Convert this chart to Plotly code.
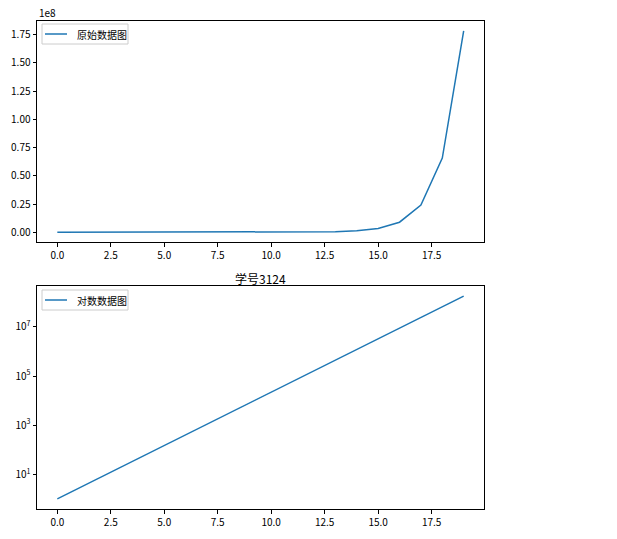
import plotly.graph_objects as go

x_vals = list(range(20))
y_vals = [1.0, 2.718, 7.389, 20.09, 54.60, 148.4, 403.4, 1097, 2981, 8103,
          22026, 59874, 162755, 442413, 1202604, 3269017, 8886111,
          24154953, 65659969, 178482301]
top_label = "原始数据图"
bottom_label = "对数数据图"
title_text = "学号3124"
top_tickvals = [0, 0.25e8, 0.5e8, 0.75e8, 1.0e8, 1.25e8, 1.5e8, 1.75e8]
top_ticktext = ["0.00", "0.25", "0.50", "0.75", "1.00", "1.25", "1.50", "1.75"]
log_tickvals = [1e1, 1e3, 1e5, 1e7]
log_ticktext = ["10<sup>1</sup>", "10<sup>3</sup>", "10<sup>5</sup>", "10<sup>7</sup>"]
x_tickvals = [0, 2.5, 5, 7.5, 10, 12.5, 15, 17.5]

W, H = 617, 539
FONT = "Noto Sans CJK SC, SimHei, sans-serif"
BLUE = "#1f77b4"

def px_x(p):
    return p / W

def px_y(p):
    return 1 - p / H

fig = go.Figure()
fig.add_trace(go.Scatter(x=x_vals, y=y_vals, mode="lines", name=top_label,
                         line=dict(color=BLUE, width=1.5), showlegend=False,
                         xaxis="x", yaxis="y"))
fig.add_trace(go.Scatter(x=x_vals, y=y_vals, mode="lines", name=bottom_label,
                         line=dict(color=BLUE, width=1.5), showlegend=False,
                         xaxis="x2", yaxis="y2"))

axis_common = dict(showline=True, mirror=True, linecolor="black", linewidth=1,
                   ticks="outside", ticklen=3.5, tickwidth=0.8, tickcolor="black",
                   showgrid=False, zeroline=False,
                   tickfont=dict(family=FONT, size=10, color="black"))

# hand-drawn matplotlib-style legends (box, sample line, label)
shapes = []
annotations = []
for label, box_top in [(top_label, 24), (bottom_label, 290)]:
    shapes.append(dict(type="rect", xref="paper", yref="paper",
                       x0=px_x(42), x1=px_x(128), y0=px_y(box_top + 20), y1=px_y(box_top),
                       line=dict(color="#cccccc", width=1),
                       fillcolor="rgba(255,255,255,0.8)", layer="above"))
    shapes.append(dict(type="line", xref="paper", yref="paper",
                       x0=px_x(45), x1=px_x(67), y0=px_y(box_top + 10), y1=px_y(box_top + 10),
                       line=dict(color=BLUE, width=1.5), layer="above"))
    annotations.append(dict(text=label, x=px_x(75), y=px_y(box_top + 10.5),
                            xref="paper", yref="paper", xanchor="left", yanchor="middle",
                            showarrow=False, font=dict(family=FONT, size=10, color="black")))

annotations.append(dict(text=title_text, x=px_x(260.5), y=px_y(278), xref="paper", yref="paper",
                        xanchor="center", yanchor="middle", showarrow=False,
                        font=dict(family=FONT, size=12, color="black")))
annotations.append(dict(text="1e8", x=px_x(37), y=px_y(13), xref="paper", yref="paper",
                        xanchor="left", yanchor="middle", showarrow=False,
                        font=dict(family=FONT, size=10, color="black")))

xdom = [px_x(37), px_x(484)]
fig.update_layout(
    width=W, height=H,
    showlegend=False,
    margin=dict(l=0, r=0, t=0, b=0),
    paper_bgcolor="white", plot_bgcolor="white",
    font=dict(family=FONT, size=10, color="black"),
    xaxis=dict(domain=xdom, range=[-0.95, 19.95], anchor="y",
               tickvals=x_tickvals, tickformat=".1f", **axis_common),
    yaxis=dict(domain=[px_y(242.3), px_y(20.7)], anchor="x",
               range=[-0.0892e8, 1.874e8],
               tickvals=top_tickvals, ticktext=top_ticktext, **axis_common),
    xaxis2=dict(domain=xdom, range=[-0.95, 19.95], anchor="y2",
                tickvals=x_tickvals, tickformat=".1f", **axis_common),
    yaxis2=dict(domain=[px_y(509), px_y(286)], anchor="x2", type="log",
                range=[-0.413, 8.665],
                tickvals=log_tickvals, ticktext=log_ticktext, **axis_common),
    shapes=shapes,
    annotations=annotations,
)

fig.write_html("out.html", config={"displayModeBar": False},
               post_script="document.body.style.margin='0';document.body.style.overflow='hidden';")
